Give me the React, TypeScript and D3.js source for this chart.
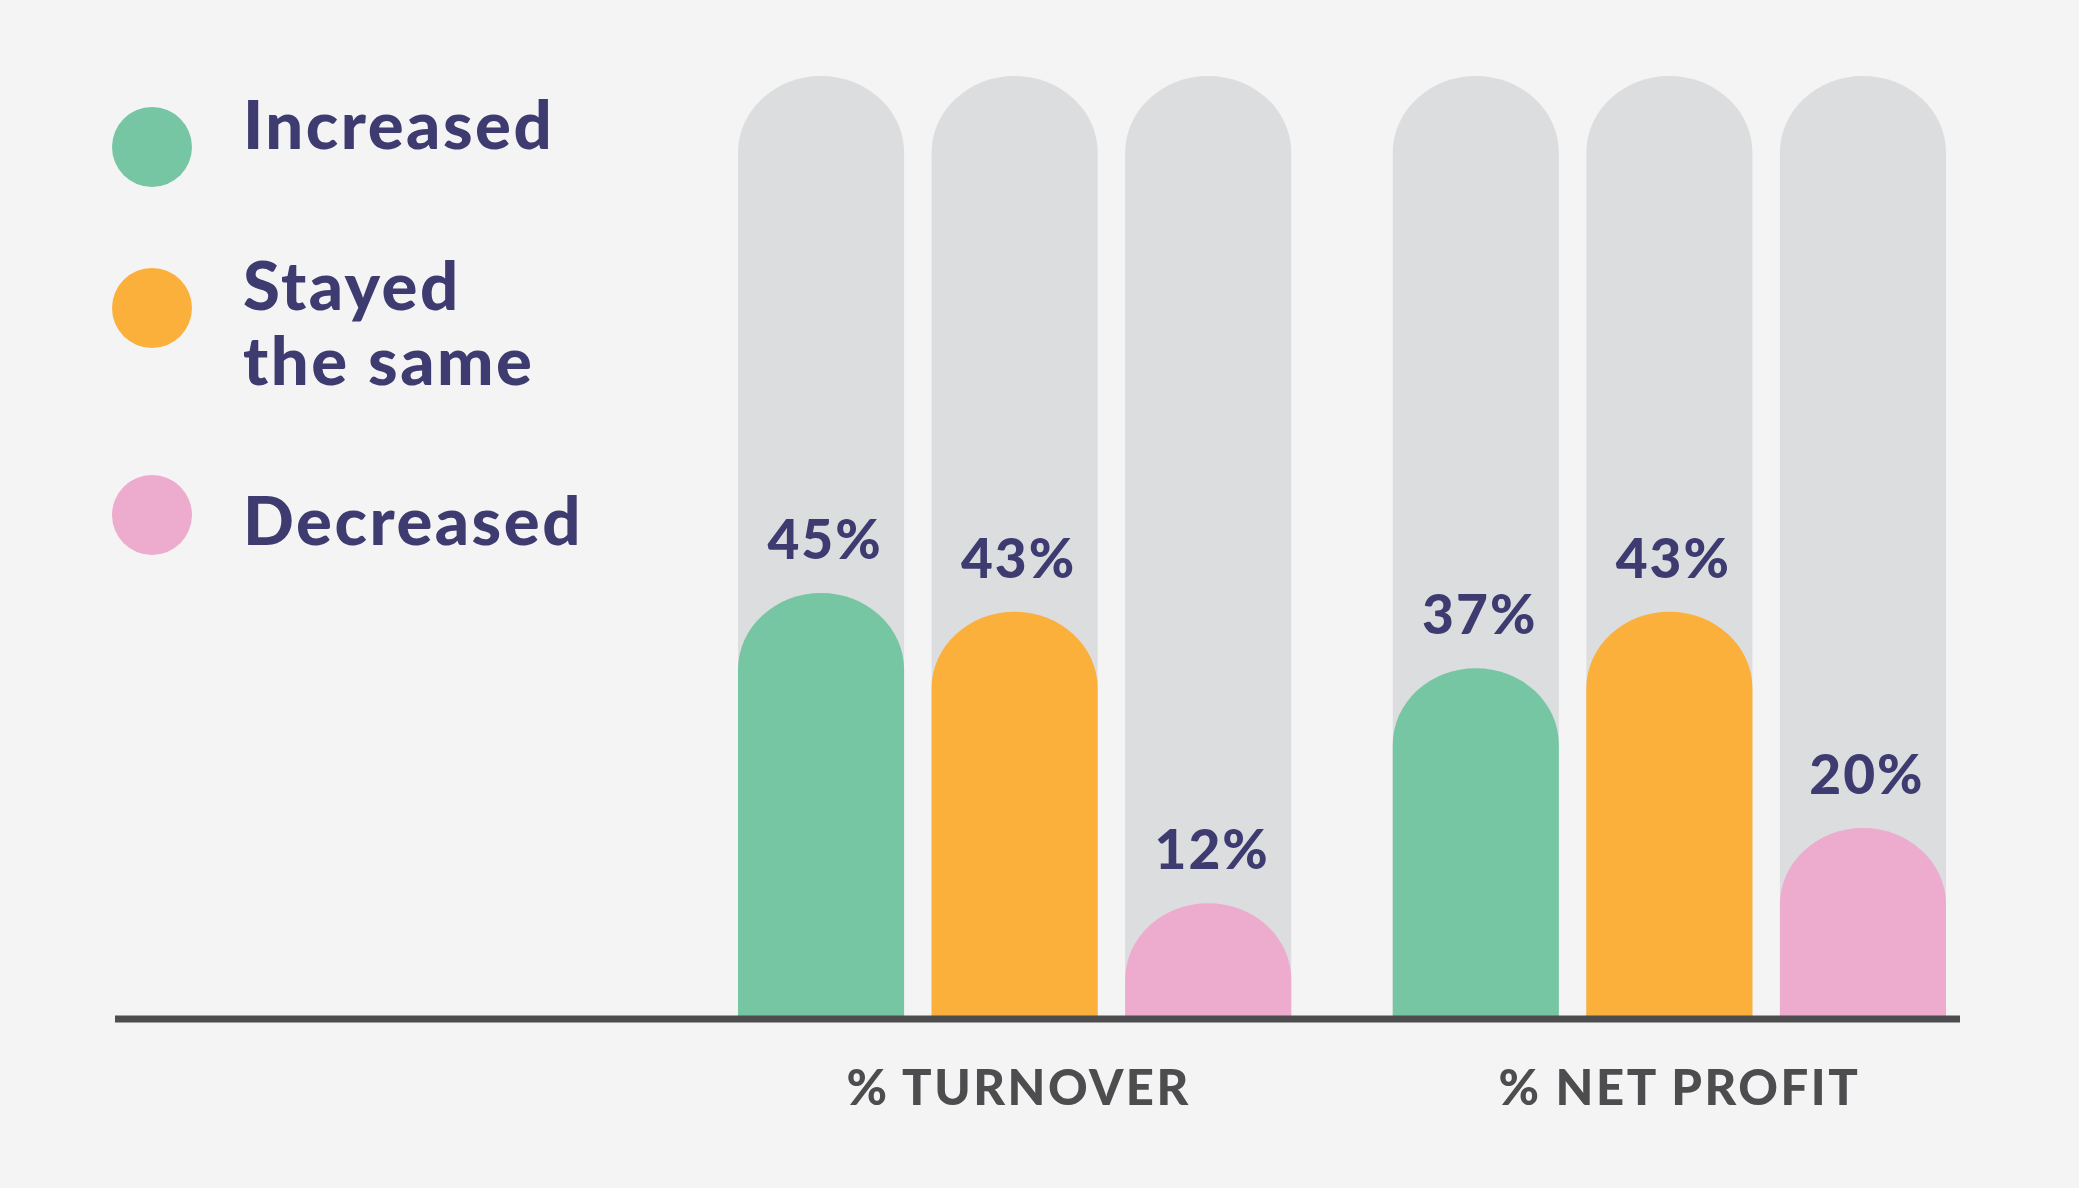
import { scaleBand, scaleLinear } from "d3";

const CATEGORIES = ["% TURNOVER", "% NET PROFIT"];
const SERIES = ["Increased", "Stayed the same", "Decreased"];
const TURNOVER = [45, 43, 12];
const NET_PROFIT = [37, 43, 20];
const VALUES = [TURNOVER, NET_PROFIT];
const LEGEND_LINES = [["Increased"], ["Stayed", "the same"], ["Decreased"]];

const COLORS = ["#76c6a3", "#fbb03b", "#edabcd"];
const TRACK = "#dcdddf";
const INK = "#3e3b70";
const AXIS = "#4d4d4f";
const BG = "#f4f4f4";
const FONT = "Lato, 'Open Sans', sans-serif";

const W = 2079, H = 1188;
const BASE = 1016, TOP = 76;

function pill(x: number, w: number, yTop: number, y0: number) {
  const rx = w / 2, ry = rx * 0.92;
  return `M${x},${y0}L${x},${yTop + ry}A${rx},${ry} 0 0 1 ${x + w},${yTop + ry}L${x + w},${y0}Z`;
}

export default function App() {
  const x0 = scaleBand().domain(CATEGORIES).range([738, 1946]).paddingInner(0.155).paddingOuter(0);
  const x1 = scaleBand().domain(SERIES).range([0, x0.bandwidth()]).paddingInner(0.142).paddingOuter(0);
  const y = scaleLinear().domain([0, 100]).range([BASE, TOP]);
  const bw = x1.bandwidth();
  const dotY = [147, 308, 515];
  const textY = [149, 310, 545];

  return (
    <svg width={W} height={H} viewBox={`0 0 ${W} ${H}`}
      style={{ position: "absolute", left: 0, top: 0, background: BG, fontFamily: FONT }}>
      <rect width={W} height={H} fill={BG} />

      {CATEGORIES.map((c, ci) => (
        <g key={c} transform={`translate(${x0(c)},0)`}>
          {SERIES.map((s, si) => {
            const v = VALUES[ci][si];
            const bx = x1(s) ?? 0;
            return (
              <g key={s}>
                <path d={pill(bx, bw, y(100), BASE + 3)} fill={TRACK} />
                <path d={pill(bx, bw, y(v), BASE + 3)} fill={COLORS[si]} />
                <text x={bx + bw / 2 + 4} y={y(v) - 34} textAnchor="middle"
                  fontSize={55} fontWeight={900} letterSpacing={2} fill={INK}>{v}%</text>
              </g>
            );
          })}
          <text x={x0.bandwidth() / 2 + 4 + ci * 6} y={1105} textAnchor="middle" fontSize={49}
            fontWeight={900} letterSpacing={2.5} fill={AXIS}>{c}</text>
        </g>
      ))}

      <line x1={115} x2={1960} y1={1019} y2={1019} stroke={AXIS} strokeWidth={7} />

      {SERIES.map((s, i) => (
        <g key={s}>
          <circle cx={152} cy={dotY[i]} r={40} fill={COLORS[i]} />
          {LEGEND_LINES[i].map((line, li) => (
            <text key={line} x={243} y={textY[i] + li * 75}
              fontSize={67} fontWeight={900} letterSpacing={2.5} fill={INK}>{line}</text>
          ))}
        </g>
      ))}
    </svg>
  );
}
